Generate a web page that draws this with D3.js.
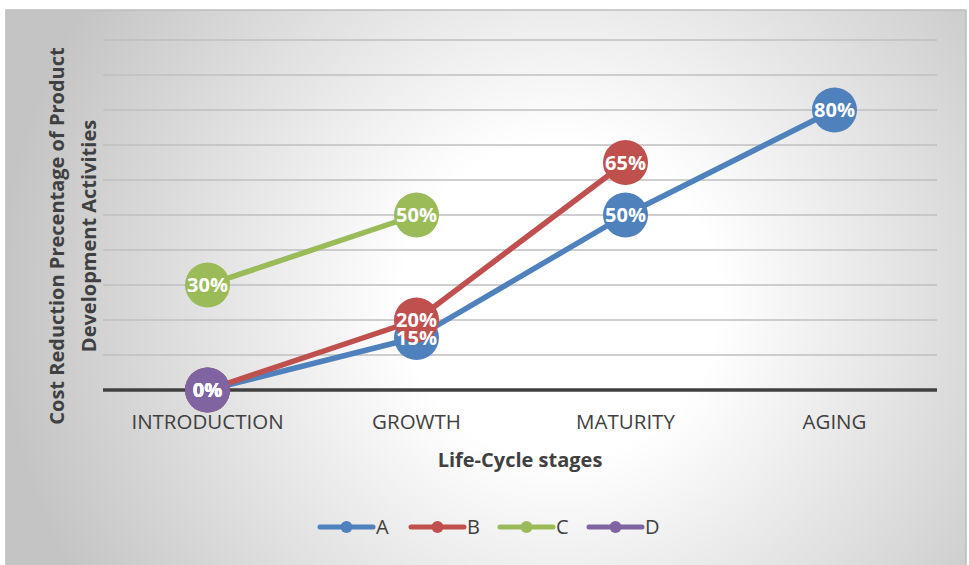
<!DOCTYPE html>
<html><head><meta charset="utf-8">
<script src="https://cdn.jsdelivr.net/npm/d3@7"></script>
<style>body{margin:0;background:#fff;} text{font-family:"Open Sans","Noto Sans",sans-serif;}</style>
</head><body><svg id="c" width="969" height="565"></svg>
<script>
const categories = ["INTRODUCTION","GROWTH","MATURITY","AGING"];
const seriesNames = ["A","B","C","D"];
const valuesA = [0,15,50,80];
const valuesB = [0,20,65,null];
const valuesC = [30,50,null,null];
const valuesD = [0,null,null,null];
const yTicks = [0,10,20,30,40,50,60,70,80,90,100];
const colors = ["#4f81bd","#c0504d","#9bbb59","#8064a2"];

const series = [valuesA,valuesB,valuesC,valuesD].map((v,i)=>({name:seriesNames[i],color:colors[i],values:v}));
const svg = d3.select("#c");
const defs = svg.append("defs");
const rg = defs.append("radialGradient").attr("id","bg").attr("gradientUnits","userSpaceOnUse")
  .attr("cx",560).attr("cy",300).attr("r",560);
rg.append("stop").attr("offset","0%").attr("stop-color","#ffffff");
rg.append("stop").attr("offset","28%").attr("stop-color","#ffffff");
rg.append("stop").attr("offset","100%").attr("stop-color","#c4c4c4");
svg.append("rect").attr("x",6).attr("y",10).attr("width",960).attr("height",560)
  .attr("fill","url(#bg)").attr("stroke","#bdbdbd").attr("stroke-width",1.5);

const x = d3.scaleBand().domain(categories).range([103,939]);
const y = d3.scaleLinear().domain([0,100]).range([390,40]);

svg.append("g").selectAll("line").data(yTicks.filter(d=>d>0)).join("line")
  .attr("x1",103).attr("x2",937).attr("y1",d=>y(d)).attr("y2",d=>y(d))
  .attr("stroke","#bfbfbf").attr("stroke-width",1.6);
svg.append("line").attr("x1",103).attr("x2",937).attr("y1",y(0)).attr("y2",y(0))
  .attr("stroke","#404040").attr("stroke-width",3.5);

const xAxis = svg.append("g").attr("transform",`translate(0,${y(0)})`)
  .call(d3.axisBottom(x).tickSize(0).tickPadding(24));
xAxis.select(".domain").remove();
xAxis.selectAll("text").attr("font-size",20.5).attr("fill","#404040")
  .style("font-family","'Open Sans',sans-serif");

const cx = d => x(d)+x.bandwidth()/2;
const line = d3.line().defined(d=>d.v!=null).x(d=>cx(d.c)).y(d=>y(d.v));
series.forEach(s=>{
  const pts = categories.map((c,i)=>({c,v:s.values[i]}));
  svg.append("path").datum(pts).attr("d",line).attr("fill","none")
    .attr("stroke",s.color).attr("stroke-width",5.5).attr("stroke-linejoin","round");
});
series.forEach(s=>{
  const pts = categories.map((c,i)=>({c,v:s.values[i]})).filter(d=>d.v!=null);
  svg.append("g").selectAll("circle").data(pts).join("circle")
    .attr("cx",d=>cx(d.c)).attr("cy",d=>y(d.v)).attr("r",22.5).attr("fill",s.color);
});
series.forEach(s=>{
  const pts = categories.map((c,i)=>({c,v:s.values[i]})).filter(d=>d.v!=null);
  svg.append("g").selectAll("text").data(pts).join("text")
    .attr("x",d=>cx(d.c)).attr("y",d=>y(d.v)).attr("dy","0.36em")
    .attr("text-anchor","middle").attr("fill","#fff").attr("font-weight","bold")
    .attr("font-size",20).text(d=>d.v+"%");
});

svg.append("text").attr("x",520).attr("y",467).attr("text-anchor","middle")
  .attr("font-size",20).attr("font-weight","bold").attr("fill","#404040").text("Life-Cycle stages");
const yt = svg.append("text").attr("transform","translate(0,236) rotate(-90)")
  .attr("text-anchor","middle").attr("font-size",20).attr("font-weight","bold").attr("fill","#404040");
yt.append("tspan").attr("x",0).attr("y",64).text("Cost Reduction Precentage of Product");
yt.append("tspan").attr("x",0).attr("y",96).text("Development Activities");

const lg = svg.append("g");
const lx = [318,409,498,587];
series.forEach((s,i)=>{
  const g = lg.append("g").attr("transform",`translate(${lx[i]},527)`);
  g.append("line").attr("x1",2).attr("x2",55).attr("y1",0).attr("y2",0)
    .attr("stroke",s.color).attr("stroke-width",5).attr("stroke-linecap","round");
  g.append("circle").attr("cx",28.5).attr("cy",0).attr("r",6).attr("fill",s.color);
  g.append("text").attr("x",58).attr("y",0).attr("dy","0.36em").attr("font-size",20)
    .attr("fill","#404040").text(s.name);
});
</script></body></html>
